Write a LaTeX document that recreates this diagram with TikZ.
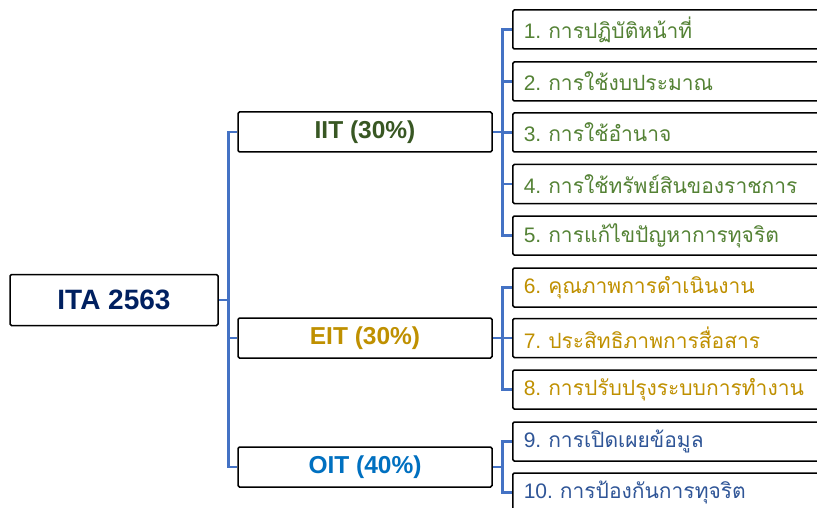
\documentclass[tikz,border=0pt]{standalone}
\usepackage{fontspec}
\setmainfont{Liberation Sans}
\newfontfamily\thaifont[Script=Thai]{Loma}
\usepackage{xcolor}
\usepackage{tikz}
\definecolor{itacolor}{RGB}{0, 32, 96}
\definecolor{iitcolor}{RGB}{56, 87, 35}
\definecolor{iitsubcolor}{RGB}{84, 130, 53}
\definecolor{eitcolor}{RGB}{191, 144, 0}
\definecolor{oitcolor}{RGB}{0, 112, 192}
\definecolor{oitsubcolor}{RGB}{47, 85, 151}
\definecolor{linkcolor}{RGB}{68, 114, 196}

\begin{document}
\begin{tikzpicture}[x=1pt, y=-1pt,
        mainbox/.style={draw=black, line width=1.5pt, rounded corners=1.5pt, fill=white, minimum width=208pt, minimum height=51pt, font=\fontsize{28}{30}\selectfont\bfseries},
        groupbox/.style={draw=black, line width=1.5pt, rounded corners=1.5pt, fill=white, minimum width=254pt, minimum height=40pt, font=\fontsize{24.5}{26}\selectfont\bfseries},
        itembox/.style={draw=black, line width=1.5pt, rounded corners=1.5pt, fill=white, anchor=west, minimum height=39pt, text width=318pt, inner xsep=11pt, align=left, font=\fontsize{21}{23}\selectfont},
        link/.style={draw=linkcolor, line width=2.6pt}]
        \useasboundingbox (0,0) rectangle (817,508);
        \clip (0,0) rectangle (817,508);

        % Root Box
        \node[mainbox, text=itacolor] (ita) at (114,300) {ITA 2563};

        % Group Boxes
        \node[groupbox, text=iitcolor] (iit) at (365,132) {IIT (30\%)};
        \node[groupbox, text=eitcolor] (eit) at (365,338) {EIT (30\%)};
        \node[groupbox, text=oitcolor] (oit) at (365,467) {OIT (40\%)};

        % Root Connections
        \draw[link] (ita.east) -- ++(10,0) |- (iit.west);
        \draw[link] (ita.east) -- ++(10,0) |- (eit.west);
        \draw[link] (ita.east) -- ++(10,0) |- (oit.west);

        % IIT Items
        \node[itembox, text=iitsubcolor] (item1) at (512,29.5) {1.\ \thaifont การปฏิบัติหน้าที่};
        \node[itembox, text=iitsubcolor] (item2) at (512,81.5) {2.\ \thaifont การใช้งบประมาณ};
        \node[itembox, text=iitsubcolor] (item3) at (512,132.5) {3.\ \thaifont การใช้อำนาจ};
        \node[itembox, text=iitsubcolor] (item4) at (512,184) {4.\ \thaifont การใช้ทรัพย์สินของราชการ};
        \node[itembox, text=iitsubcolor] (item5) at (512,235.5) {5.\ \thaifont การแก้ไขปัญหาการทุจริต};

        % EIT Items
        \node[itembox, text=eitcolor] (item6) at (512,287.5) {6.\ \thaifont คุณภาพการดำเนินงาน};
        \node[itembox, text=eitcolor] (item7) at (512,338) {7.\ \thaifont ประสิทธิภาพการสื่อสาร};
        \node[itembox, text=eitcolor] (item8) at (512,389.5) {8.\ \thaifont การปรับปรุงระบบการทำงาน};

        % OIT Items
        \node[itembox, text=oitsubcolor] (item9) at (512,441.5) {9.\ \thaifont การเปิดเผยข้อมูล};
        \node[itembox, text=oitsubcolor] (item10) at (512,492.5) {10.\ \thaifont การป้องกันการทุจริต};

        % IIT Connections
        \draw[link] (iit.east) -- ++(10,0) |- (item1.west);
        \draw[link] (iit.east) -- ++(10,0) |- (item2.west);
        \draw[link] (iit.east) -- ++(10,0) |- (item3.west);
        \draw[link] (iit.east) -- ++(10,0) |- (item4.west);
        \draw[link] (iit.east) -- ++(10,0) |- (item5.west);

        % EIT Connections
        \draw[link] (eit.east) -- ++(10,0) |- (item6.west);
        \draw[link] (eit.east) -- ++(10,0) |- (item7.west);
        \draw[link] (eit.east) -- ++(10,0) |- (item8.west);

        % OIT Connections
        \draw[link] (oit.east) -- ++(10,0) |- (item9.west);
        \draw[link] (oit.east) -- ++(10,0) |- (item10.west);
\end{tikzpicture}
\end{document}
